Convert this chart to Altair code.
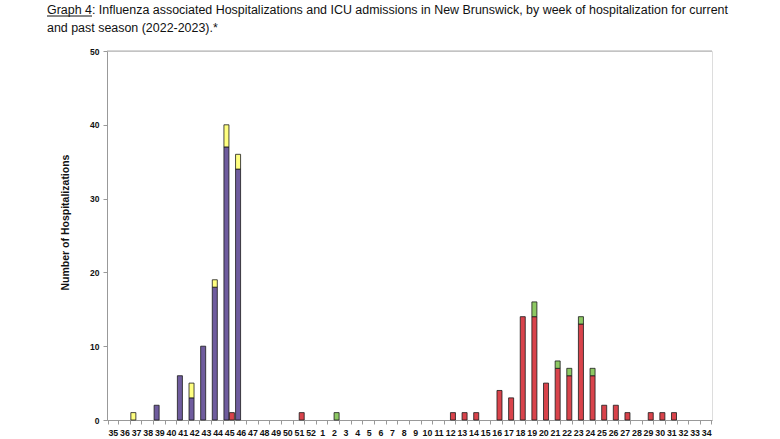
import altair as alt
import pandas as pd

weeks = ["35","36","37","38","39","40","41","42","43","44","45","46","47","48","49","50","51","52",
         "1","2","3","4","5","6","7","8","9","10","11","12","13","14","15","16","17","18","19","20",
         "21","22","23","24","25","26","27","28","29","30","31","32","33","34"]

past_weeks = ["37","39","41","42","43","44","45","46"]
past_hosp  = [0, 2, 6, 3, 10, 18, 37, 34]
past_icu   = [1, 0, 0, 2, 0, 1, 3, 2]

cur_weeks = ["45","51","2","12","13","14","16","17","18","19","20","21","22","23","24","25","26","27","29","30","31"]
cur_hosp  = [1, 1, 0, 1, 1, 1, 4, 3, 14, 14, 5, 7, 6, 13, 6, 2, 2, 1, 1, 1, 1]
cur_icu   = [0, 0, 1, 0, 0, 0, 0, 0, 0, 2, 0, 1, 1, 1, 1, 0, 0, 0, 0, 0, 0]

title_lines = ["Graph 4: Influenza associated Hospitalizations and ICU admissions in New Brunswick, by week of hospitalization for current",
               "and past season (2022-2023).*"]

rows = []
for w, h, i in zip(past_weeks, past_hosp, past_icu):
    rows.append({"week": w, "season": "past", "part": "Past hospitalizations", "order": 0, "n": h})
    rows.append({"week": w, "season": "past", "part": "Past ICU", "order": 1, "n": i})
for w, h, i in zip(cur_weeks, cur_hosp, cur_icu):
    rows.append({"week": w, "season": "current", "part": "Current hospitalizations", "order": 0, "n": h})
    rows.append({"week": w, "season": "current", "part": "Current ICU", "order": 1, "n": i})
df = pd.DataFrame(rows)
df = df[df["n"] > 0]

font = "Liberation Sans, Arial, sans-serif"

bars = alt.Chart(df).mark_bar(stroke="#1a1a1a", strokeWidth=0.8).encode(
    x=alt.X("week:N", sort=weeks, scale=alt.Scale(domain=weeks, paddingInner=0.1, paddingOuter=0.05),
            axis=alt.Axis(title=None, labelAngle=0, tickBand="extent", labelFont=font, labelFontSize=8.8,
                          labelFontWeight="bold", labelColor="#111", labelPadding=4, tickSize=4,
                          tickColor="#999", domainColor="#999", labelOverlap=False)),
    xOffset=alt.XOffset("season:N", scale=alt.Scale(domain=["past", "current"], paddingInner=0.08)),
    y=alt.Y("n:Q", stack="zero", scale=alt.Scale(domain=[0, 50], nice=False),
            axis=alt.Axis(title="Number of Hospitalizations", values=[0, 10, 20, 30, 40, 50], grid=False,
                          labelFont=font, labelFontSize=8.5, labelFontWeight="bold", labelColor="#111",
                          tickSize=4, tickColor="#999", domainColor="#999", labelPadding=4,
                          titleFont=font, titleFontSize=10.5, titleFontWeight="bold", titleColor="#111",
                          titlePadding=19, titleY=171, titleAnchor="middle", titleAlign="center")),
    color=alt.Color("part:N", legend=None,
                    scale=alt.Scale(domain=["Past hospitalizations", "Past ICU",
                                            "Current hospitalizations", "Current ICU"],
                                    range=["#6F5C9E", "#FFFF80", "#D9434B", "#8DC863"])),
    order=alt.Order("order:Q"),
)

top_line = alt.Chart(pd.DataFrame({"y": [50]})).mark_rule(color="#aaa", strokeWidth=1).encode(
    y=alt.Y("y:Q")
)

t1 = alt.Chart(pd.DataFrame({"t": [title_lines[0]]})).mark_text(
    align="left", baseline="alphabetic", font=font, fontSize=12.45, color="#111"
).encode(text="t:N", x=alt.value(-60), y=alt.value(-37))
t2 = alt.Chart(pd.DataFrame({"t": [title_lines[1]]})).mark_text(
    align="left", baseline="alphabetic", font=font, fontSize=12.45, color="#111"
).encode(text="t:N", x=alt.value(-60), y=alt.value(-19))

underline = alt.Chart(pd.DataFrame({"a": [0]})).mark_rule(color="#111", strokeWidth=1).encode(
    x=alt.value(-60), x2=alt.value(-15), y=alt.value(-35)
)

chart = alt.layer(top_line, bars, t1, t2, underline).properties(
    width=605, height=369,
    autosize=alt.AutoSizeParams(type="none"),
    padding={"left": 107, "top": 51, "right": 68, "bottom": 19},
).configure_view(stroke=None).configure(background="white")

chart.save("out.html", embed_options={"renderer": "svg", "actions": False})
